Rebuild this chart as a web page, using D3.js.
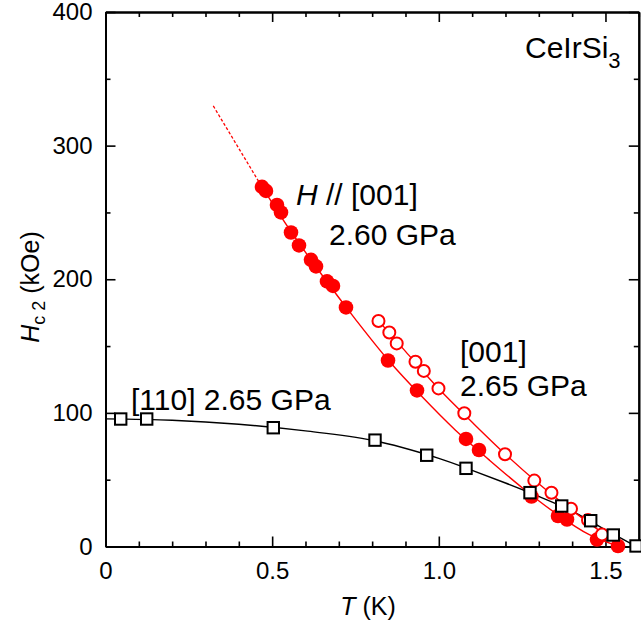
<!DOCTYPE html>
<html><head><meta charset="utf-8">
<script src="https://cdn.jsdelivr.net/npm/d3@7"></script>
<style>body{margin:0;background:#fff}svg{display:block}text{font-family:"Liberation Sans",Arial,sans-serif;fill:#000}</style>
</head><body>
<svg id="c" width="641" height="625"></svg>
<script>
// H // [001], 2.60 GPa (filled circles)
const fT = [0.4695,0.4815,0.5145,0.5265,0.5565,0.5805,0.6165,0.6315,0.6645,0.6825,0.7215,0.8476,0.9346,1.0816,1.1206,1.278,1.3576,1.3846,1.4746,1.5376];
const fH = [269.1,266.1,255.6,250.0,235.0,225.3,214.5,209.6,198.4,195.0,178.9,139.2,116.8,80.5,72.2,37.4,22.8,20.2,5.2,0.4];
// [001], 2.65 GPa (open circles)
const oT = [0.819,0.8515,0.8737,0.930,0.955,0.999,1.0765,1.1986,1.2865,1.338,1.3966,1.4476,1.4896];
const oH = [168.8,160.2,152.0,138.3,131.4,118.3,99.7,69.0,49.3,40.2,28.2,19.8,9.0];
// [110], 2.65 GPa (open squares)
const sT = [0.0456,0.1236,0.5034,0.8086,0.9637,1.0816,1.2736,1.3687,1.4557,1.5235,1.5917];
const sH = [95.4,95.4,88.9,79.6,68.3,58.5,40.3,30.3,19.3,8.6,0.4];
// guide curves
const fitFT = [0.46,0.55,0.65,0.75,0.85,0.95,1.05,1.15,1.25,1.35,1.45,1.54];
const fitFH = [273,238,203,170,139,112,87,65,44,25,9,0];
const extFT = [0.3234,0.46];
const extFH = [329.7,273];
const fitOT = [0.819,0.9,1.0,1.1,1.2,1.3,1.4,1.5,1.545];
const fitOH = [169,146,118,93,69,47,27,8.5,0];
const fitST = [0,0.2,0.4,0.6,0.8,1.0,1.1,1.2,1.3,1.4,1.5,1.6];
const fitSH = [95.5,94.5,91.5,86.5,79.5,66,57,47.5,37.5,26.5,12.5,-1];
// axes
const xMajor = [0,0.5,1.0,1.5];
const xLabels = ["0","0.5","1.0","1.5"];
const yMajor = [0,100,200,300,400];
const yLabels = ["0","100","200","300","400"];

const svg = d3.select("#c");
const x = d3.scaleLinear([0,1.6],[105.5,638.8]);
const y = d3.scaleLinear([0,400],[546.5,12]);
const zip = (a,b)=>a.map((v,i)=>[v,b[i]]);
const line = d3.line().x(d=>x(d[0])).y(d=>y(d[1])).curve(d3.curveCatmullRom);

const xMinor = d3.range(0,1.61,0.1).map(v=>+v.toFixed(2)).filter(v=>!xMajor.includes(v));
const yMinor = [50,150,250,350];

function ax(gen, tr, vals, size, labels, pad){
  const g = svg.append("g").attr("transform",tr)
   .call(gen.tickValues(vals).tickSizeInner(size).tickSizeOuter(0).tickPadding(pad||8)
     .tickFormat(labels?((d,i)=>labels[i]):()=>""));
  g.select(".domain").attr("stroke-width",2);
  g.selectAll(".tick line").attr("stroke-width",1.6);
  g.selectAll("text").attr("font-size",24).attr("font-family","Liberation Sans, Arial, sans-serif");
  return g;
}
ax(d3.axisBottom(x),`translate(0,${y(0)})`,xMajor,-10,xLabels,15);
ax(d3.axisBottom(x),`translate(0,${y(0)})`,xMinor,-5);
ax(d3.axisTop(x),`translate(0,${y(400)})`,xMajor,-10);
ax(d3.axisTop(x),`translate(0,${y(400)})`,xMinor,-5);
ax(d3.axisLeft(y),`translate(${x(0)},0)`,yMajor,-10,yLabels,13);
ax(d3.axisLeft(y),`translate(${x(0)},0)`,yMinor,-5);
ax(d3.axisRight(y),`translate(${x(1.6)},0)`,yMajor,-10);
ax(d3.axisRight(y),`translate(${x(1.6)},0)`,yMinor,-5);

// curves
svg.append("path").attr("d",line(zip(fitST,fitSH))).attr("fill","none").attr("stroke","#000").attr("stroke-width",1.4);
svg.append("path").attr("d",line(zip(fitFT,fitFH))).attr("fill","none").attr("stroke","#f00").attr("stroke-width",1.4);
svg.append("path").attr("d",d3.line().x(d=>x(d[0])).y(d=>y(d[1]))(zip(extFT,extFH))).attr("fill","none").attr("stroke","#f00").attr("stroke-width",1.3).attr("stroke-dasharray","3,2");
svg.append("path").attr("d",line(zip(fitOT,fitOH))).attr("fill","none").attr("stroke","#f00").attr("stroke-width",1.4);

// markers
svg.append("g").selectAll("circle").data(zip(fT,fH)).join("circle")
  .attr("cx",d=>x(d[0])).attr("cy",d=>y(d[1])).attr("r",7.3).attr("fill","#f00");
svg.append("g").selectAll("circle").data(zip(oT,oH)).join("circle")
  .attr("cx",d=>x(d[0])).attr("cy",d=>y(d[1])).attr("r",6).attr("fill","#fff").attr("stroke","#f00").attr("stroke-width",2);
svg.append("g").selectAll("rect").data(zip(sT,sH)).join("rect")
  .attr("x",d=>x(d[0])-5.7).attr("y",d=>y(d[1])-5.7).attr("width",11.4).attr("height",11.4)
  .attr("fill","#fff").attr("stroke","#000").attr("stroke-width",2);

// labels
const fs = 30;
function txt(xp,yp,parts,anchor){
  const t = svg.append("text").attr("x",xp).attr("y",yp).attr("font-size",fs).attr("text-anchor",anchor||"start");
  parts.forEach(p=>{const s=t.append("tspan").text(p.t); if(p.i) s.attr("font-style","italic"); if(p.dy) s.attr("dy",p.dy); if(p.fs) s.attr("font-size",p.fs);});
  return t;
}
txt(525,58,[{t:"CeIrSi"},{t:"3",dy:10,fs:22}]);
txt(296,205,[{t:"H",i:1},{t:" // [001]"}]);
txt(329,245,[{t:"2.60 GPa"}]);
txt(460,362,[{t:"[001]"}]);
txt(460,396,[{t:"2.65 GPa"}]);
txt(131,410,[{t:"[110] 2.65 GPa"}]);
// axis titles
svg.append("text").attr("x",368).attr("y",615).attr("text-anchor","middle").attr("font-size",25)
  .call(t=>{t.append("tspan").attr("font-style","italic").text("T");t.append("tspan").text(" (K)");});
svg.append("text").attr("transform","translate(39,287) rotate(-90)").attr("text-anchor","middle").attr("font-size",25)
  .call(t=>{t.append("tspan").attr("font-style","italic").text("H");
    t.append("tspan").attr("font-size",18).attr("dy",6).text("c 2");
    t.append("tspan").attr("dy",-6).text(" (kOe)");});
</script>
</body></html>
